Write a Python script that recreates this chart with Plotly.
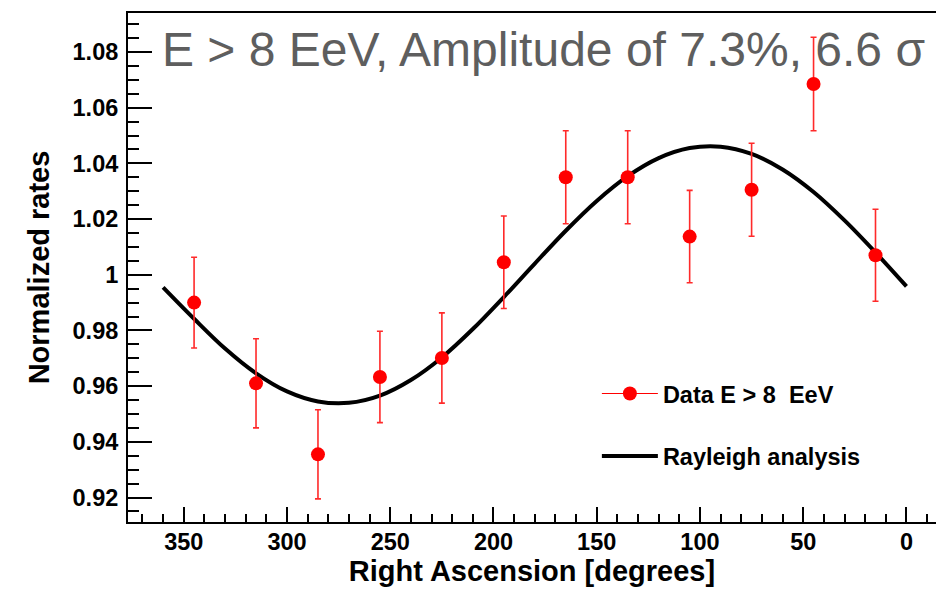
import plotly.graph_objects as go

# ---- data ----
ra_deg = [345, 315, 285, 255, 225, 195, 165, 135, 105, 75, 45, 15]
norm_rate = [0.990, 0.961, 0.9355, 0.9633, 0.9701, 1.0045, 1.035, 1.035, 1.0137, 1.0305, 1.0685, 1.007]
rate_err = [0.0163, 0.016, 0.016, 0.0164, 0.0162, 0.0166, 0.0167, 0.0167, 0.0166, 0.0167, 0.0168, 0.0165]

curve_ra = [360, 345, 330, 315, 300, 285, 270, 255, 240, 225, 210, 195, 180,
            165, 150, 135, 120, 105, 90, 75, 60, 45, 30, 15, 0]
curve_val = [0.9955, 0.9842, 0.9735, 0.9646, 0.9581, 0.9545, 0.9540, 0.9566, 0.9622,
             0.9703, 0.9805, 0.9920, 1.0040, 1.0158, 1.0265, 1.0354, 1.0419, 1.0455,
             1.0460, 1.0434, 1.0378, 1.0297, 1.0195, 1.0080, 0.9958]

title_text = "E > 8 EeV, Amplitude of 7.3%, 6.6 σ"
data_label = "Data E > 8\u00a0 EeV"
curve_label = "Rayleigh analysis"
x_title = "Right Ascension [degrees]"
y_title = "Normalized rates"

FONT = "Liberation Sans, Arial, Helvetica, sans-serif"

fig = go.Figure()

# Rayleigh curve
fig.add_trace(go.Scatter(
    x=curve_ra, y=curve_val, mode="lines",
    line=dict(color="black", width=4, shape="spline", smoothing=1),
    name=curve_label, legend="legend2", showlegend=True,
))

# data points
fig.add_trace(go.Scatter(
    x=ra_deg, y=norm_rate, mode="markers",
    marker=dict(color="#ff0000", size=14),
    error_y=dict(type="data", array=rate_err, visible=True,
                 color="#ff2a2a", thickness=1.6, width=3),
    showlegend=False,
))

# legend entry for data (line + marker, as in the reference)
fig.add_trace(go.Scatter(
    x=[None], y=[None], mode="lines+markers",
    line=dict(color="#ff0000", width=1.2),
    marker=dict(color="#ff0000", size=14),
    name=data_label, legend="legend", showlegend=True,
))

axis_common = dict(
    showline=True, linecolor="black", linewidth=2,
    ticks="inside", tickcolor="black", tickwidth=1.5,
    showgrid=False, zeroline=False,
    tickfont=dict(family=FONT, size=23.5, color="black", weight="bold"),
)

legend_font = dict(family=FONT, size=23.5, color="black", weight="bold")

fig.update_layout(
    width=936, height=592,
    margin=dict(l=128, r=0, t=13, b=70),
    paper_bgcolor="white", plot_bgcolor="white",
    font=dict(family=FONT, color="black"),
    xaxis=dict(
        **axis_common,
        range=[377, -14.3], autorange=False,
        tick0=0, dtick=50, ticklen=15, mirror=True,
        minor=dict(dtick=10, ticklen=8, ticks="inside", tickcolor="black", tickwidth=1.5),
        ticklabelstandoff=-2,
        title=dict(text=x_title, standoff=2,
                   font=dict(family=FONT, size=29, color="black", weight="bold")),
    ),
    yaxis=dict(
        **axis_common,
        range=[0.9112, 1.094], autorange=False,
        tick0=0.92, dtick=0.02, ticklen=24,
        minor=dict(dtick=0.005, ticklen=11, ticks="inside", tickcolor="black", tickwidth=1.5),
        ticklabelstandoff=3,
        title=dict(text=y_title, standoff=14,
                   font=dict(family=FONT, size=29, color="black", weight="bold")),
    ),
    legend=dict(
        x=0.5803, y=0.252, xanchor="left", yanchor="middle",
        bgcolor="rgba(0,0,0,0)", borderwidth=0, itemwidth=56,
        font=legend_font,
    ),
    legend2=dict(
        x=0.5803, y=0.129, xanchor="left", yanchor="middle",
        bgcolor="rgba(0,0,0,0)", borderwidth=0, itemwidth=56,
        font=legend_font,
    ),
    annotations=[dict(
        text=title_text, xref="paper", yref="paper",
        x=0.040, y=0.9287, xanchor="left", yanchor="middle", showarrow=False,
        font=dict(family=FONT, size=48, color="#5e5e5e"),
    )],
)

fig.write_html("out.html")
